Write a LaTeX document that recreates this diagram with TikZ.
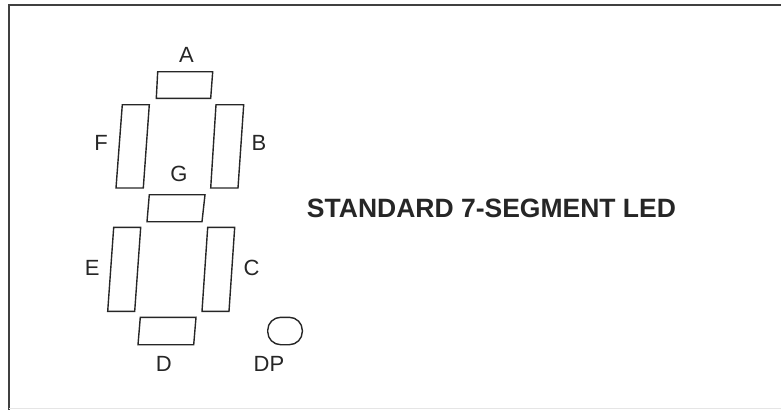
\documentclass[tikz,border=0pt]{standalone}
\usepackage{fontspec}
\setmainfont{Liberation Sans}
\usepackage{tikz}
\usetikzlibrary{calc}

\tikzset{
  segm/.style={draw=black!85,line width=1.4pt,line join=miter},
  seglabel/.style={inner sep=0pt,font=\fontsize{22}{26}\selectfont,text=black!85},
}

\begin{document}
\begin{tikzpicture}[x=1pt,y=-1pt]
                 \useasboundingbox (0,0) rectangle (781,410);
                 % frame
                 \draw[black!75,line width=2pt] (9,410) -- (9,5) -- (781,5);
                 \draw[black!10,line width=1pt] (9,408.5) -- (781,408.5);
                 % segments
                 \draw[segm] (157.7,71.7) -- (212.7,71.7) -- (210.7,98.3) -- (156.3,98.3) -- cycle;
                 \draw[segm] (122.3,104.7) -- (149.3,104.7) -- (143.3,188) -- (116,188) -- cycle;
                 \draw[segm] (216,104.7) -- (243.7,104.7) -- (238,188) -- (210.7,188) -- cycle;
                 \draw[segm] (149.3,194.7) -- (205,194.7) -- (202,221.7) -- (147,221.7) -- cycle;
                 \draw[segm] (113.7,227.3) -- (140.7,227.3) -- (134.7,311.3) -- (107.7,311.3) -- cycle;
                 \draw[segm] (207.7,227.3) -- (234.7,227.3) -- (229,311.3) -- (202,311.3) -- cycle;
                 \draw[segm] (140.3,317.3) -- (196,317.3) -- (193.7,344.7) -- (138,344.7) -- cycle;
                 \draw[segm,rounded corners=13pt] (267.7,317.3) rectangle (302.3,344.7);
                 % labels
                 \node[seglabel](la)at(186.5,54.5){A};
                 \node[seglabel](lf)at(101,142.7){F};
                 \node[seglabel](lb)at(259,142.7){B};
                 \node[seglabel](lg)at(179,174){G};
                 \node[seglabel](le)at(92.3,268){E};
                 \node[seglabel](lc)at(251.5,268){C};
                 \node[seglabel](ld)at(163.7,364){D};
                 \node[seglabel](ldp)at(269,364){DP};
                 \node[inner sep=0pt,font=\fontsize{26.5}{30}\selectfont\bfseries,text=black!85](title)at(491.5,208.3){STANDARD 7-SEGMENT LED};
               \end{tikzpicture}
\end{document}
